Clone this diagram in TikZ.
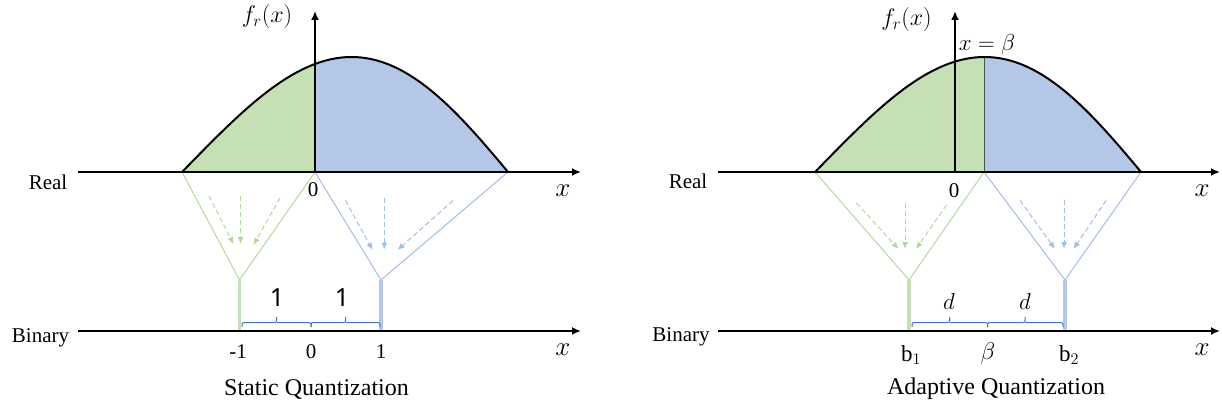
\RequirePackage{fix-cm}
\documentclass[tikz,border=0pt]{standalone}
\usepackage{fontspec}
\setmainfont{Liberation Serif}
\newfontfamily\sansone{Noto Sans}
\usetikzlibrary{arrows.meta,decorations.pathreplacing}
\definecolor{gfill}{HTML}{C5E0B4}
\definecolor{bfill}{HTML}{B4C7E7}
\definecolor{gline}{HTML}{B5D7A1}
\definecolor{bline}{HTML}{A5BCE5}
\definecolor{brcol}{HTML}{4472C4}
\tikzset{
  axisline/.style={line width=2pt,-{Latex[length=9pt,width=8pt]}},
  curveline/.style={line width=2pt,line join=round},
  funnel/.style={line width=1pt},
  quant/.style={line width=3.5pt},
  flow/.style={dash pattern=on 5pt off 3pt,line width=1pt,-{Latex[length=7pt,width=6pt]}},
  bracestyle/.style={draw=brcol,line width=1pt,rounded corners=2pt},
  sidelbl/.style={font=\fontsize{21}{24}\selectfont,inner sep=0pt},
  numlbl/.style={font=\fontsize{21}{24}\selectfont,inner sep=0pt},
  mathlbl/.style={font=\fontsize{24}{28}\selectfont,inner sep=0pt},
  xlbl/.style={font=\fontsize{27}{30}\selectfont,inner sep=0pt},
  caption/.style={font=\fontsize{24}{28}\selectfont,inner sep=0pt},
  onelbl/.style={font=\sansone\fontsize{25}{28}\selectfont,inner sep=0pt},
}
\begin{document}
\begin{tikzpicture}[x=1pt,y=-1pt]
\useasboundingbox (0,0) rectangle (1222,409);
% ---------------- LEFT PANEL ----------------
\fill[gfill] (182,172) -- plot[domain=182:315,samples=50]
  (\x,{172-115*sin(180*(((\x-182)/326)-0.08*((\x-182)/326)*(1-(\x-182)/326)))}) -- (315,172) -- cycle;
\fill[bfill] (315,172) -- plot[domain=315:508,samples=60]
  (\x,{172-115*sin(180*(((\x-182)/326)-0.08*((\x-182)/326)*(1-(\x-182)/326)))}) -- (508,172) -- cycle;
\draw[curveline] plot[domain=182:508,samples=120]
  (\x,{172-115*sin(180*(((\x-182)/326)-0.08*((\x-182)/326)*(1-(\x-182)/326)))});
\coordinate (La) at (182,172);
\coordinate (Lo) at (315,172);
\coordinate (Lb) at (508,172);
\coordinate (Lgv) at (239.5,280);
\coordinate (Lbv) at (381,280);
\coordinate (Lgq) at (239.5,331);
\coordinate (Lbq) at (381,331);
\draw[funnel,gline] (La) -- (Lgv) -- (Lo);
\draw[funnel,bline] (Lo) -- (Lbv) -- (Lb);
\draw[quant,gfill] (Lgv) -- (Lgq);
\draw[quant,bfill] (Lbv) -- (Lbq);
\coordinate (Lg1s) at (209,196); \coordinate (Lg1e) at (233.5,244);
\coordinate (Lg2s) at (240.5,196); \coordinate (Lg2e) at (240.5,244);
\coordinate (Lg3s) at (280,198); \coordinate (Lg3e) at (253.5,245);
\draw[flow,gline] (Lg1s) -- (Lg1e);
\draw[flow,gline] (Lg2s) -- (Lg2e);
\draw[flow,gline] (Lg3s) -- (Lg3e);
\coordinate (Lb1s) at (345.5,200.5); \coordinate (Lb1e) at (372.5,250);
\coordinate (Lb2s) at (384.3,198); \coordinate (Lb2e) at (384.3,249.5);
\coordinate (Lb3s) at (453,200.5); \coordinate (Lb3e) at (397.5,250);
\draw[flow,bline] (Lb1s) -- (Lb1e);
\draw[flow,bline] (Lb2s) -- (Lb2e);
\draw[flow,bline] (Lb3s) -- (Lb3e);
\coordinate (Lys) at (315,172);
\coordinate (Lye) at (315,11);
\draw[axisline] (Lys) -- (Lye);
\coordinate (Lrs) at (78,172);
\coordinate (Lre) at (581,172);
\draw[axisline] (Lrs) -- (Lre);
\coordinate (Lbs) at (78,331);
\coordinate (Lbe) at (581,331);
\draw[axisline] (Lbs) -- (Lbe);
% braces
\coordinate (LbrA) at (242,327); \coordinate (LbrM) at (311,327); \coordinate (LbrB) at (380,327);
\draw[bracestyle] (LbrA) -- ++(0,-4.5) -| (276.5,317);
\draw[bracestyle] (276.5,322.5) -| (LbrM);
\draw[bracestyle] (LbrM) -- ++(0,-4.5) -| (345.5,317);
\draw[bracestyle] (345.5,322.5) -| (LbrB);
\node[mathlbl] (Lfr) at (267,17) {$f_r(x)$};
\node[sidelbl] (Lreal) at (48,182) {Real};
\node[sidelbl] (Lbin) at (40.5,338) {Binary};
\node[numlbl] (Lzero) at (313,190) {0};
\node[xlbl] (Lx1) at (563,191) {$x$};
\node[xlbl] (Lx2) at (563,350) {$x$};
\node[numlbl] (Lm1) at (238,352) {-1};
\node[numlbl] (Lz2) at (311,352) {0};
\node[numlbl] (Lp1) at (381,352) {1};
\node[onelbl] (Lone1) at (277,298) {1};
\node[onelbl] (Lone2) at (342,298) {1};
\node[caption] (Lcap) at (316.5,389) {Static Quantization};
% ---------------- RIGHT PANEL ----------------
\fill[gfill] (815,172) -- plot[domain=815:984,samples=60]
  (\x,{172-115*sin(180*(((\x-815)/326)-0.08*((\x-815)/326)*(1-(\x-815)/326)))}) -- (984,172) -- cycle;
\fill[bfill] (984,172) -- plot[domain=984:1141,samples=60]
  (\x,{172-115*sin(180*(((\x-815)/326)-0.08*((\x-815)/326)*(1-(\x-815)/326)))}) -- (1141,172) -- cycle;
\coordinate (Rbeta) at (984,172);
\coordinate (Rbetatop) at (984,{172-115*sin(180*(((984-815)/326)-0.08*((984-815)/326)*(1-(984-815)/326)))});
\draw[line width=0.8pt,black!45!gfill!70!black] (Rbeta) -- (Rbetatop);
\draw[curveline] plot[domain=815:1141,samples=120]
  (\x,{172-115*sin(180*(((\x-815)/326)-0.08*((\x-815)/326)*(1-(\x-815)/326)))});
\coordinate (Ra) at (815,172);
\coordinate (Rb) at (1141,172);
\coordinate (Rgv) at (909,280);
\coordinate (Rbv) at (1065,280);
\coordinate (Rgq) at (909,331);
\coordinate (Rbq) at (1065,331);
\draw[funnel,gline] (Ra) -- (Rgv) -- (Rbeta);
\draw[funnel,bline] (Rbeta) -- (Rbv) -- (Rb);
\draw[quant,gfill] (Rgv) -- (Rgq);
\draw[quant,bfill] (Rbv) -- (Rbq);
\coordinate (Rg1s) at (856.5,203); \coordinate (Rg1e) at (898.5,249);
\coordinate (Rg2s) at (905,203); \coordinate (Rg2e) at (905,249);
\coordinate (Rg3s) at (946.5,205); \coordinate (Rg3e) at (916,249);
\draw[flow,gline] (Rg1s) -- (Rg1e);
\draw[flow,gline] (Rg2s) -- (Rg2e);
\draw[flow,gline] (Rg3s) -- (Rg3e);
\coordinate (Rb1s) at (1020,200.5); \coordinate (Rb1e) at (1055,249);
\coordinate (Rb2s) at (1064,200); \coordinate (Rb2e) at (1064,249);
\coordinate (Rb3s) at (1106,200.5); \coordinate (Rb3e) at (1073.5,249);
\draw[flow,bline] (Rb1s) -- (Rb1e);
\draw[flow,bline] (Rb2s) -- (Rb2e);
\draw[flow,bline] (Rb3s) -- (Rb3e);
\coordinate (Rys) at (955,172);
\coordinate (Rye) at (955,11);
\draw[axisline] (Rys) -- (Rye);
\coordinate (Rrs) at (718,172);
\coordinate (Rre) at (1220,172);
\draw[axisline] (Rrs) -- (Rre);
\coordinate (Rbs) at (718,331);
\coordinate (Rbe) at (1220,331);
\draw[axisline] (Rbs) -- (Rbe);
\coordinate (RbrA) at (912,327); \coordinate (RbrM) at (987.5,327); \coordinate (RbrB) at (1063,327);
\draw[bracestyle] (RbrA) -- ++(0,-4.5) -| (949.5,317);
\draw[bracestyle] (949.5,322.5) -| (RbrM);
\draw[bracestyle] (RbrM) -- ++(0,-4.5) -| (1025,317);
\draw[bracestyle] (1025,322.5) -| (RbrB);
\node[mathlbl] (Rfr) at (906.5,20) {$f_r(x)$};
\node[mathlbl,font=\fontsize{23}{26}\selectfont] (Rxb) at (987,45) {$x=\beta$};
\node[sidelbl] (Rreal) at (688,181) {Real};
\node[sidelbl] (Rbin) at (681,337) {Binary};
\node[numlbl] (Rzero) at (954,191) {0};
\node[xlbl] (Rx1) at (1202,191) {$x$};
\node[xlbl] (Rx2) at (1202,350) {$x$};
\node[numlbl,font=\fontsize{23}{26}\selectfont] (Rb1) at (911,355) {b$_1$};
\node[mathlbl] (Rbl) at (988,353) {$\beta$};
\node[numlbl,font=\fontsize{23}{26}\selectfont] (Rb2) at (1069,355) {b$_2$};
\node[mathlbl,font=\fontsize{23}{26}\selectfont] (Rd1) at (949,302) {$d$};
\node[mathlbl,font=\fontsize{23}{26}\selectfont] (Rd2) at (1025,302) {$d$};
\node[caption] (Rcap) at (996,389) {Adaptive Quantization};
\end{tikzpicture}
\end{document}
